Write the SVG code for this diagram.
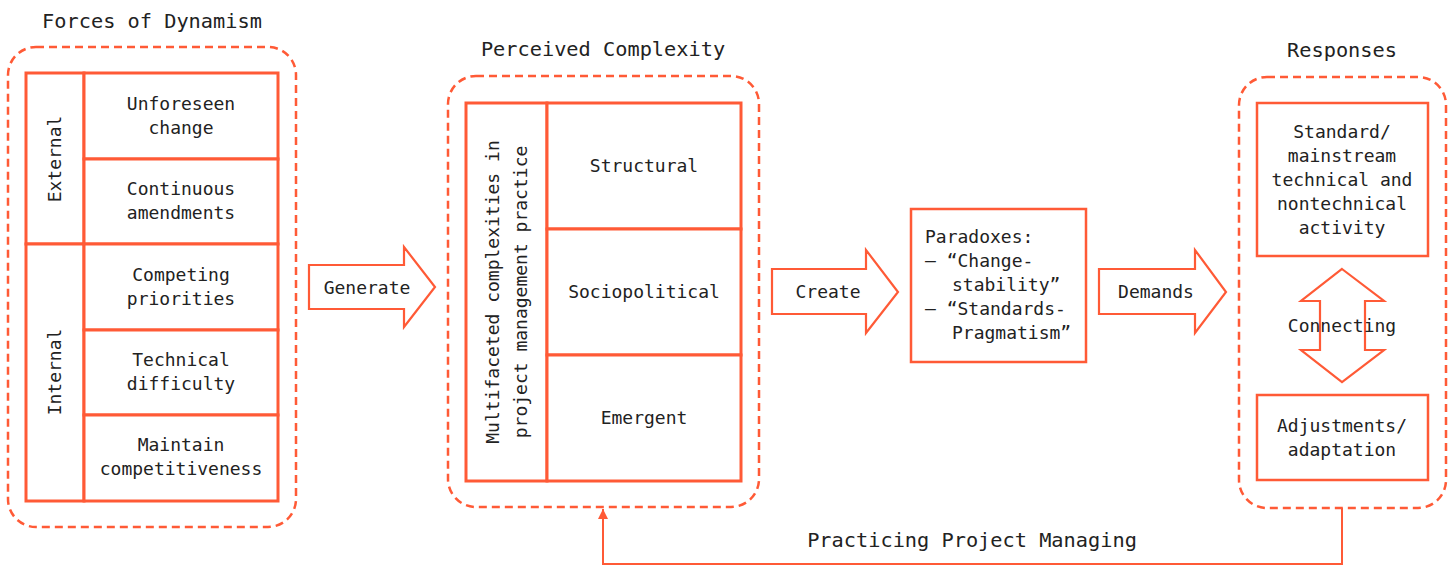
<svg xmlns="http://www.w3.org/2000/svg" width="1450" height="566" viewBox="0 0 1450 566">
  <style>
    .bg { fill: #ffffff; }
    .group { fill: none; stroke: #ff5a36; stroke-width: 2.5; stroke-dasharray: 8 5; }
    .cell { fill: #ffffff; stroke: #ff5a36; stroke-width: 3; }
    .box { fill: #ffffff; stroke: #ff5a36; stroke-width: 2.5; }
    .arrow { fill: #ffffff; stroke: #ff5a36; stroke-width: 2.2; stroke-linejoin: miter; }
    .link { fill: none; stroke: #ff5a36; stroke-width: 2; }
    text { font-family: "DejaVu Sans Mono", "Liberation Mono", monospace; fill: #222222; font-size: 18px; }
    .title { font-size: 20.3px; text-anchor: middle; }
    .c { text-anchor: middle; }
  </style>
  <defs>
    <marker id="head" viewBox="0 0 10 10" refX="10" refY="5" markerWidth="10" markerHeight="10" markerUnits="userSpaceOnUse" orient="auto">
      <path d="M0,0 L10,5 L0,10 Z" fill="#ff5a36"/>
    </marker>
  </defs>
  <rect class="bg" x="0" y="0" width="1450" height="566"/>

  <!-- Forces of Dynamism -->
  <g id="forces">
    <text class="title" x="152" y="28">Forces of Dynamism</text>
    <rect class="group" x="8" y="47" width="288" height="480" rx="28"/>
    <rect class="cell" x="26" y="73" width="58" height="171"/>
    <rect class="cell" x="26" y="244" width="58" height="257"/>
    <rect class="cell" x="84" y="73" width="194" height="86"/>
    <rect class="cell" x="84" y="159" width="194" height="85"/>
    <rect class="cell" x="84" y="244" width="194" height="86"/>
    <rect class="cell" x="84" y="330" width="194" height="85"/>
    <rect class="cell" x="84" y="415" width="194" height="86"/>
    <text class="c" transform="translate(61,159) rotate(-90)">External</text>
    <text class="c" transform="translate(61,372) rotate(-90)">Internal</text>
    <text class="c" x="181" y="110">Unforeseen</text>
    <text class="c" x="181" y="134">change</text>
    <text class="c" x="181" y="195">Continuous</text>
    <text class="c" x="181" y="219">amendments</text>
    <text class="c" x="181" y="281">Competing</text>
    <text class="c" x="181" y="305">priorities</text>
    <text class="c" x="181" y="366">Technical</text>
    <text class="c" x="181" y="390">difficulty</text>
    <text class="c" x="181" y="451">Maintain</text>
    <text class="c" x="181" y="475">competitiveness</text>
  </g>

  <!-- Generate -->
  <g id="generate">
    <path class="arrow" d="M309,265 H404 V247 L435,287 L404,327 V309 H309 Z"/>
    <text class="c" x="367" y="294">Generate</text>
  </g>

  <!-- Perceived Complexity -->
  <g id="perceived">
    <text class="title" x="603" y="56">Perceived Complexity</text>
    <rect class="group" x="448" y="76" width="311" height="431" rx="28"/>
    <rect class="cell" x="466" y="103" width="81" height="378"/>
    <rect class="cell" x="547" y="103" width="194" height="126"/>
    <rect class="cell" x="547" y="229" width="194" height="126"/>
    <rect class="cell" x="547" y="355" width="194" height="126"/>
    <text class="c" transform="translate(499,292) rotate(-90)">Multifaceted complexities in</text>
    <text class="c" transform="translate(527,292) rotate(-90)">project management practice</text>
    <text class="c" x="644" y="172">Structural</text>
    <text class="c" x="644" y="298">Sociopolitical</text>
    <text class="c" x="644" y="424">Emergent</text>
  </g>

  <!-- Create -->
  <g id="create">
    <path class="arrow" d="M772,269 H866 V250 L898,292 L866,333 V314 H772 Z"/>
    <text class="c" x="828" y="298">Create</text>
  </g>

  <!-- Paradoxes -->
  <g id="paradoxes">
    <rect class="box" x="911" y="209" width="175" height="153"/>
    <text x="925" y="243">Paradoxes:</text>
    <text x="925" y="267">– “Change-</text>
    <text x="952" y="291">stability”</text>
    <text x="925" y="315">– “Standards-</text>
    <text x="952" y="339">Pragmatism”</text>
  </g>

  <!-- Demands -->
  <g id="demands">
    <path class="arrow" d="M1099,269 H1195 V250 L1226,292 L1195,333 V314 H1099 Z"/>
    <text class="c" x="1156" y="298">Demands</text>
  </g>

  <!-- Responses -->
  <g id="responses">
    <text class="title" x="1342" y="57">Responses</text>
    <rect class="group" x="1239" y="77" width="207" height="431" rx="28"/>
  </g>
  <g id="standard">
    <rect class="box" x="1257" y="103" width="171" height="153"/>
    <text class="c" x="1342" y="138">Standard/</text>
    <text class="c" x="1342" y="162">mainstream</text>
    <text class="c" x="1342" y="186">technical and</text>
    <text class="c" x="1342" y="210">nontechnical</text>
    <text class="c" x="1342" y="234">activity</text>
  </g>
  <g id="connecting">
    <path class="arrow" d="M1342,269 L1384,301 H1365 V350 H1384 L1342,382 L1301,350 H1320 V301 H1301 Z"/>
    <text class="c" x="1342" y="332">Connecting</text>
  </g>
  <g id="adjustments">
    <rect class="box" x="1257" y="395" width="171" height="85"/>
    <text class="c" x="1342" y="432">Adjustments/</text>
    <text class="c" x="1342" y="456">adaptation</text>
  </g>

  <!-- Feedback loop -->
  <g id="connectors">
    <path class="link" d="M1342,508 V564 H603 V509" marker-end="url(#head)"/>
    <text class="title" x="972" y="547">Practicing Project Managing</text>
  </g>
</svg>
